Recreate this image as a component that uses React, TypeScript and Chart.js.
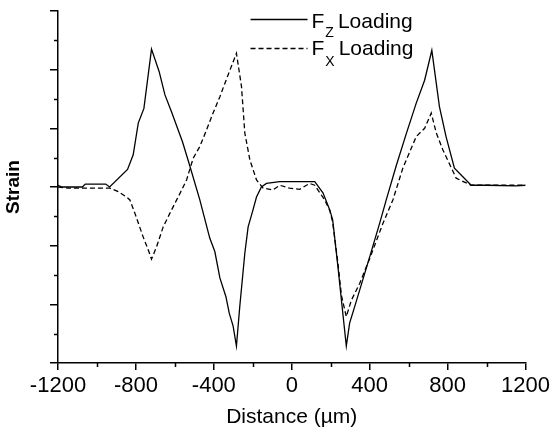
import React, { useEffect, useRef } from "react";
import { Chart, registerables } from "chart.js";

Chart.register(...registerables);

// ---- Data ----
const fzDistance = [-1200, -1180, -1075, -1060, -955, -935, -843, -814, -788, -759, -720, -681, -651, -617, -561, -527, -472, -421, -395, -369, -338, -321, -301, -284, -267, -241, -224, -199, -181, -156, -130, -62, 118, 160, 195, 210, 237, 255, 280, 297, 323, 400, 451, 485, 537, 588, 639, 682, 719, 758, 792, 835, 921, 1000, 1150, 1200];
const fzStrain = [0.03, 0, 0, 0.05, 0.05, 0, 0.3, 0.55, 1.09, 1.34, 2.35, 1.97, 1.57, 1.28, 0.77, 0.4, -0.22, -0.87, -1.1, -1.55, -1.87, -2.15, -2.37, -2.71, -2.04, -1.13, -0.68, -0.39, -0.17, 0, 0.06, 0.09, 0.09, -0.1, -0.39, -0.56, -1.36, -1.93, -2.71, -2.32, -2.04, -1.19, -0.62, -0.22, 0.37, 0.91, 1.43, 1.82, 2.33, 1.37, 0.86, 0.32, 0.03, 0.03, 0.02, 0.03];

const fxDistance = [-1200, -1150, -1000, -933, -891, -848, -831, -805, -763, -737, -720, -694, -660, -626, -591, -574, -540, -506, -472, -438, -404, -369, -327, -284, -258, -241, -215, -181, -147, -96, -62, -11, 40, 92, 118, 169, 195, 210, 237, 255, 280, 306, 349, 400, 468, 519, 570, 639, 682, 716, 742, 776, 844, 921, 1200];
const fxStrain = [0, -0.02, -0.02, -0.02, -0.08, -0.17, -0.22, -0.45, -0.85, -1.07, -1.23, -1.02, -0.68, -0.45, -0.22, -0.11, 0.12, 0.49, 0.69, 0.97, 1.26, 1.54, 1.91, 2.28, 1.71, 0.92, 0.46, 0.12, -0.02, -0.05, 0.03, -0.02, -0.04, 0.06, 0.03, -0.22, -0.4, -0.6, -1.3, -1.85, -2.21, -1.93, -1.64, -1.22, -0.62, -0.22, 0.32, 0.86, 1.0, 1.26, 0.92, 0.63, 0.15, 0.03, 0.03];

const xMinorTicks = [-1000, -600, -200, 200, 600, 1000];
const yMinorTicks = [-2.5, -1.5, -0.5, 0.5, 1.5, 2.5];

const legendMain = ["F", "F"];
const legendSub = ["Z", "X"];
const legendRest = ["Loading", "Loading"];
const legendDash = [[], [5, 3]];

const FONT = "'Liberation Sans', Arial, sans-serif";

const extrasPlugin = {
  id: "extras",
  afterDraw(chart: any) {
    const ctx = chart.ctx;
    const xs = chart.scales.x;
    const ys = chart.scales.y;
    const ca = chart.chartArea;
    ctx.save();
    ctx.strokeStyle = "#000";
    ctx.lineWidth = 1.5;
    ctx.beginPath();
    xMinorTicks.forEach((v) => {
      const px = Math.round(xs.getPixelForValue(v)) + 0.5;
      ctx.moveTo(px, ca.bottom);
      ctx.lineTo(px, ca.bottom + 4);
    });
    yMinorTicks.forEach((v) => {
      const py = Math.round(ys.getPixelForValue(v)) + 0.5;
      ctx.moveTo(ca.left - 4, py);
      ctx.lineTo(ca.left, py);
    });
    ctx.stroke();

    // Legend
    const lineY = [ca.top + 8.5, ca.top + 37.5];
    const baseY = [ca.top + 16.7, ca.top + 44];
    const subOff = [9, 11];
    for (let i = 0; i < 2; i++) {
      ctx.save();
      ctx.lineWidth = 1.3;
      ctx.setLineDash(legendDash[i]);
      ctx.beginPath();
      ctx.moveTo(ca.right - 275, lineY[i]);
      ctx.lineTo(ca.right - 218, lineY[i]);
      ctx.stroke();
      ctx.restore();

      ctx.fillStyle = "#000";
      ctx.textBaseline = "alphabetic";
      ctx.textAlign = "left";
      const fx = ca.right - 214;
      ctx.font = `21px ${FONT}`;
      ctx.fillText(legendMain[i], fx, baseY[i]);
      const wF = ctx.measureText(legendMain[i]).width;
      ctx.font = `14px ${FONT}`;
      const sx = fx + wF + 1;
      ctx.fillText(legendSub[i], sx, baseY[i] + subOff[i]);
      const wS = ctx.measureText(legendSub[i]).width;
      ctx.font = `21px ${FONT}`;
      ctx.fillText(legendRest[i], sx + wS + 4, baseY[i]);
    }
    ctx.restore();
  },
};

export default function App() {
  const canvasRef = useRef<HTMLCanvasElement | null>(null);

  useEffect(() => {
    const canvas = canvasRef.current;
    if (!canvas) return;
    const chart = new Chart(canvas, {
      type: "line",
      data: {
        datasets: [
          {
            label: "Fz Loading",
            data: fzDistance.map((x, i) => ({ x, y: fzStrain[i] })),
            borderColor: "#000",
            borderWidth: 1.3,
            pointRadius: 0,
            tension: 0,
            fill: false,
          },
          {
            label: "Fx Loading",
            data: fxDistance.map((x, i) => ({ x, y: fxStrain[i] })),
            borderColor: "#000",
            borderWidth: 1.3,
            borderDash: [5, 3],
            pointRadius: 0,
            tension: 0,
            fill: false,
          },
        ],
      },
      options: {
        animation: false,
        responsive: false,
        maintainAspectRatio: false,
        devicePixelRatio: 1,
        layout: { padding: { top: 11, right: 27, left: 0, bottom: 0 } },
        plugins: {
          legend: { display: false },
          tooltip: { enabled: false },
        },
        scales: {
          x: {
            type: "linear",
            min: -1200,
            max: 1200,
            afterFit: (s: any) => {
              s.height = 73;
            },
            ticks: {
              stepSize: 400,
              autoSkip: false,
              maxRotation: 0,
              padding: 3,
              color: "#000",
              font: { family: FONT, size: 22 },
              callback: (v: any) => String(v),
            },
            grid: {
              drawOnChartArea: false,
              drawTicks: true,
              tickLength: 7,
              color: "#000",
              lineWidth: 1.5,
            },
            border: { display: true, color: "#000", width: 1.5 },
            title: {
              display: true,
              text: "Distance (µm)",
              color: "#000",
              font: { family: FONT, size: 21 },
              padding: { top: 0, bottom: 6 },
            },
          },
          y: {
            type: "linear",
            min: -3,
            max: 3,
            afterFit: (s: any) => {
              s.width = 58;
            },
            ticks: {
              stepSize: 1,
              display: false,
            },
            grid: {
              drawOnChartArea: false,
              drawTicks: true,
              tickLength: 8,
              color: "#000",
              lineWidth: 1.5,
            },
            border: { display: true, color: "#000", width: 1.5 },
            title: {
              display: true,
              text: "Strain",
              color: "#000",
              font: { family: FONT, size: 19, weight: "bold" },
              padding: { top: 2, bottom: 0 },
            },
          },
        },
      },
      plugins: [extrasPlugin],
    });
    return () => chart.destroy();
  }, []);

  return (
    <div style={{ position: "fixed", left: 0, top: 0, width: 553, height: 436, background: "#fff" }}>
      <canvas ref={canvasRef} width={553} height={436} style={{ display: "block" }} />
    </div>
  );
}
